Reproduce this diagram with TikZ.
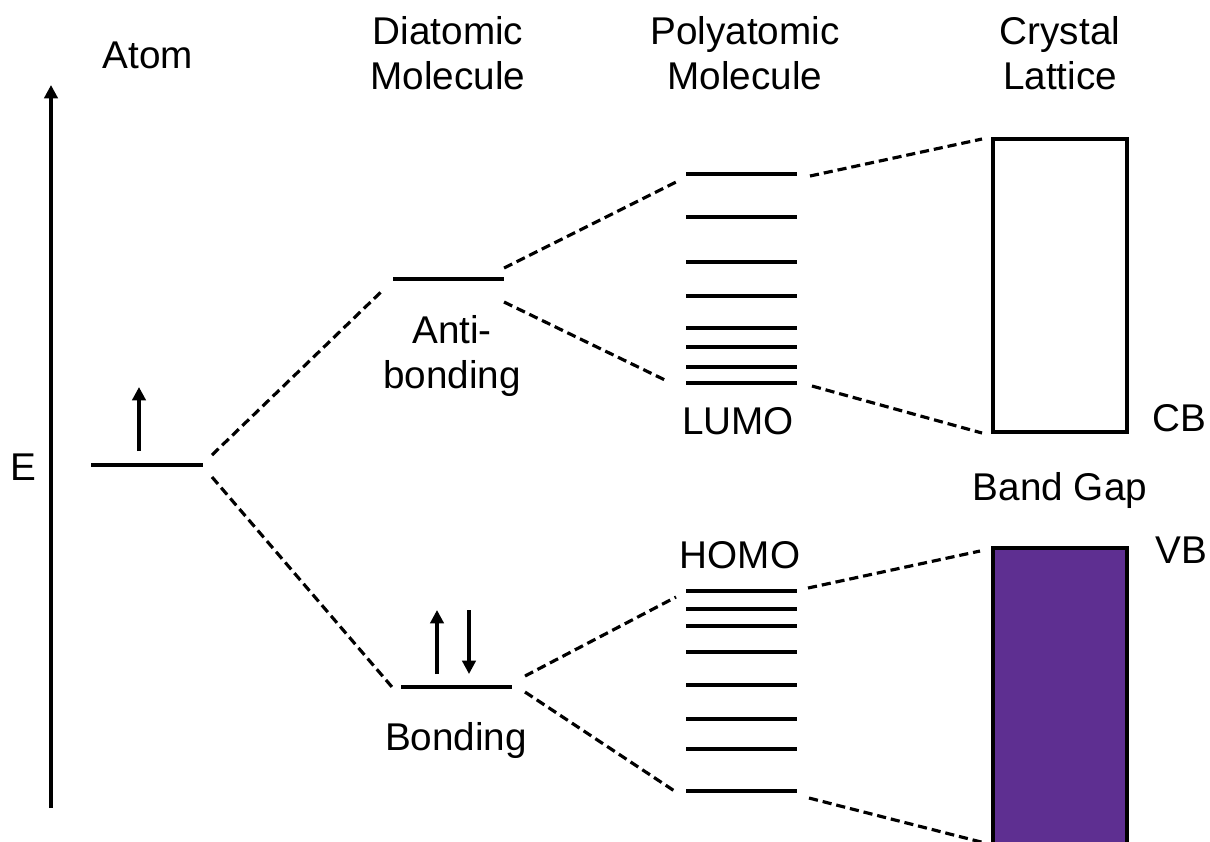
\documentclass[tikz,border=0pt]{standalone}
\usepackage{fontspec}
\setmainfont{Liberation Sans}
\usetikzlibrary{arrows.meta}
\definecolor{vbpurple}{RGB}{94,47,145}

\begin{document}
\begin{tikzpicture}[x=0.01cm, y=-0.01cm, font=\fontsize{11}{12.8}\selectfont,
  level/.style={line width=0.9pt},
  link/.style={line width=0.9pt, dash pattern=on 2.6pt off 1.4pt},
  spin/.style={line width=0.9pt, -{Triangle[length=3.8pt,width=3.8pt]}}]
\clip (0,0) rectangle (1210,841);
% energy axis
\coordinate (Ebot) at (51,808);
\coordinate (Etop) at (51,85);
\draw[spin] (Ebot) -- (Etop);
\node (E) at (23,467) {E};
% column titles
\node (tatom) at (148,55) {Atom};
\node[align=center] (tdia) at (448,53) {Diatomic\\Molecule};
\node[align=center] (tpoly) at (745,53) {Polyatomic\\Molecule};
\node[align=center] (tcry) at (1060,53) {Crystal\\Lattice};
% atom
\draw[level] (91,465) -- (203,465);
\draw[spin] (139,451) -- (139,387);
% diatomic
\draw[level] (393,279) -- (504,279);
\draw[level] (401,687) -- (512,687);
\draw[spin] (437,674) -- (437,610);
\draw[spin] (469,610) -- (469,674);
\node[align=center] (lanti) at (452,356) {Anti-\\bonding};
\node (lbond) at (456,740) {Bonding};
% polyatomic
\foreach \y in {174,217,262,296,328,347,367,383}
  \draw[level] (686,\y) -- (797,\y);
\foreach \y in {591,609,626,652,685,719,749,791}
  \draw[level] (686,\y) -- (797,\y);
\node (llumo) at (738,421) {LUMO};
\node (lhomo) at (740,555) {HOMO};
% crystal
\draw[line width=0.9pt] (993,139) rectangle (1127,432);
\draw[line width=0.9pt, fill=vbpurple] (993,548) rectangle (1127,870);
\node (lcb) at (1179,418) {CB};
\node (lvb) at (1181,550) {VB};
\node (lgap) at (1060,490) {Band Gap};
% connector ends
\coordinate (a1) at (212,455); \coordinate (b1) at (383,290);
\coordinate (a2) at (212,477); \coordinate (b2) at (392,687);
\coordinate (a3) at (504,268); \coordinate (b3) at (676,182);
\coordinate (a4) at (504,302); \coordinate (b4) at (665,380);
\coordinate (a5) at (525,676); \coordinate (b5) at (676,597);
\coordinate (a6) at (525,692); \coordinate (b6) at (676,792);
\coordinate (a7) at (810,176); \coordinate (b7) at (982,139);
\coordinate (a8) at (812,386); \coordinate (b8) at (982,433);
\coordinate (a9) at (808,588); \coordinate (b9) at (980,551);
\coordinate (a10) at (809,798); \coordinate (b10) at (985,843);
\foreach \i in {1,...,10}
  \draw[link] (a\i) -- (b\i);
\end{tikzpicture}
\end{document}
